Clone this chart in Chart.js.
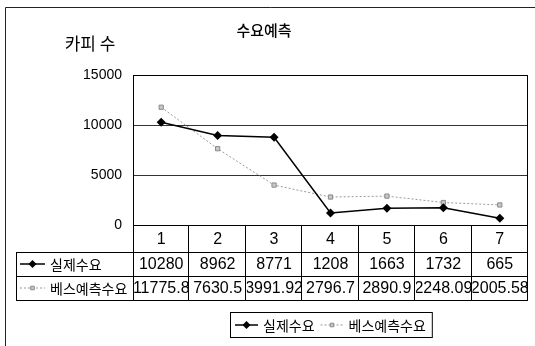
<!DOCTYPE html>
<html>
<head>
<meta charset="utf-8">
<script src="https://cdn.jsdelivr.net/npm/chart.js@4.4.0/dist/chart.umd.min.js"></script>
<style>
  html, body { margin: 0; padding: 0; background: #fff; }
  #wrap { width: 535px; height: 346px; position: relative; }
</style>
</head>
<body>
<div id="wrap"><canvas id="line"></canvas></div>
<script>
const periods = ['1', '2', '3', '4', '5', '6', '7'];
const actualDemand = [10280, 8962, 8771, 1208, 1663, 1732, 665];
const forecastDemand = [11775.8, 7630.5, 3991.92, 2796.7, 2890.9, 2248.09, 2005.58];
const seriesNames = ['실제수요', '베스예측수요'];
const yTicks = [0, 5000, 10000, 15000];
const chartTitle = '수요예측';
const yTitle = '카피 수';

const KO = "'Noto Sans CJK KR', sans-serif";
const NUM = "'Liberation Sans', Arial, sans-serif";

// line + marker, the way excel shows the series key
function drawKey(chart, idx, x1, x2, y) {
  var ctx = chart.ctx;
  var ds = chart.data.datasets[idx];
  ctx.save();
  ctx.strokeStyle = ds.borderColor;
  ctx.lineWidth = ds.borderWidth;
  ctx.setLineDash(ds.borderDash || []);
  ctx.beginPath();
  ctx.moveTo(x1, y);
  ctx.lineTo(x2, y);
  ctx.stroke();
  ctx.setLineDash([]);
  ctx.fillStyle = ds.backgroundColor;
  ctx.strokeStyle = ds.pointBorderColor || ds.borderColor;
  Chart.helpers.drawPoint(ctx, {
    pointStyle: ds.pointStyle,
    radius: ds.pointRadius - 0.5,
    rotation: 0,
    borderWidth: ds.pointBorderWidth
  }, (x1 + x2) / 2, y);
  ctx.restore();
}

function cellText(ctx, text, x1, x2, y1, y2) {
  ctx.save();
  ctx.beginPath();
  ctx.rect(x1 + 1, y1, x2 - x1 - 1, y2 - y1);
  ctx.clip();
  ctx.fillText(text, (x1 + x2) / 2, (y1 + y2) / 2 + 1);
  ctx.restore();
}

const tablePlugin = {
  id: 'dataTable',
  beforeDatasetsDraw(chart) {
    var ctx = chart.ctx, a = chart.chartArea;
    ctx.save();
    ctx.strokeStyle = '#000';
    ctx.lineWidth = 1;
    ctx.strokeRect(a.left + 0.5, a.top + 0.5, a.right - a.left - 1, a.bottom - a.top);
    ctx.restore();
  },
  afterDraw(chart) {
    var ctx = chart.ctx, a = chart.chartArea;
    var n = periods.length;
    var w = (a.right - a.left) / n;
    var labelLeft = 16;
    var rows = [a.bottom, a.bottom + 27, a.bottom + 51, a.bottom + 75];

    ctx.save();
    // outer chart frame
    ctx.strokeStyle = '#222';
    ctx.lineWidth = 1;
    ctx.beginPath();
    ctx.moveTo(5.5, 346);
    ctx.lineTo(5.5, 7.5);
    ctx.lineTo(535, 7.5);
    ctx.stroke();

    // y axis title
    ctx.fillStyle = '#000';
    ctx.font = '17px ' + KO;
    ctx.textAlign = 'center';
    ctx.textBaseline = 'middle';
    ctx.fillText(yTitle, 90, 44);

    // table grid
    ctx.strokeStyle = '#000';
    ctx.beginPath();
    for (var r = 1; r < rows.length; r++) {
      ctx.moveTo(labelLeft, rows[r] + 0.5);
      ctx.lineTo(a.right, rows[r] + 0.5);
    }
    ctx.moveTo(labelLeft + 0.5, rows[1]);
    ctx.lineTo(labelLeft + 0.5, rows[3]);
    for (var i = 0; i <= n; i++) {
      var x = Math.round(a.left + i * w) - 0.5;
      if (i === 0) x = a.left + 0.5;
      ctx.moveTo(x, rows[0]);
      ctx.lineTo(x, rows[3]);
    }
    ctx.stroke();

    // cells
    ctx.fillStyle = '#000';
    ctx.font = '16px ' + NUM;
    ctx.textAlign = 'center';
    ctx.textBaseline = 'middle';
    var series = [actualDemand, forecastDemand];
    for (var i = 0; i < n; i++) {
      var x1 = a.left + i * w, x2 = a.left + (i + 1) * w;
      cellText(ctx, periods[i], x1, x2, rows[0], rows[1]);
      for (var s = 0; s < series.length; s++) {
        cellText(ctx, String(series[s][i]), x1, x2, rows[s + 1], rows[s + 2]);
      }
    }

    // row headers
    ctx.font = '14px ' + KO;
    ctx.textAlign = 'left';
    for (var s = 0; s < seriesNames.length; s++) {
      var yc = (rows[s + 1] + rows[s + 2]) / 2;
      drawKey(chart, s, 20, 45, yc);
      ctx.fillStyle = '#000';
      ctx.fillText(seriesNames[s], 50, yc + 1);
    }

    // legend box
    var lx = 230, ly = 312, lh = 25;
    var xPos = lx + 5;
    var items = [];
    for (var s = 0; s < seriesNames.length; s++) {
      items.push({ key: xPos, text: xPos + 28 });
      xPos += 28 + ctx.measureText(seriesNames[s]).width + 6;
    }
    ctx.strokeStyle = '#000';
    ctx.strokeRect(lx + 0.5, ly + 0.5, xPos - lx, lh);
    for (var s = 0; s < seriesNames.length; s++) {
      drawKey(chart, s, items[s].key, items[s].key + 23, ly + lh / 2 + 0.5);
      ctx.fillStyle = '#000';
      ctx.fillText(seriesNames[s], items[s].text, ly + lh / 2 + 1.5);
    }
    ctx.restore();
  }
};

const lineData = {
  labels: periods,
  datasets: [{
    label: seriesNames[0],
    data: actualDemand,
    borderColor: '#000',
    backgroundColor: '#000',
    borderWidth: 1.5,
    pointStyle: 'rectRot',
    pointRadius: 4.5,
    pointBorderWidth: 0,
    tension: 0
  }, {
    label: seriesNames[1],
    data: forecastDemand,
    borderColor: '#999',
    backgroundColor: '#c8c8c8',
    borderWidth: 1,
    borderDash: [2, 2],
    pointStyle: 'rect',
    pointRadius: 3,
    pointBorderColor: '#8a8a8a',
    pointBorderWidth: 1,
    tension: 0
  }]
};

const lineConfig = {
  type: 'line',
  data: lineData,
  options: {
    responsive: true,
    maintainAspectRatio: false,
    animation: false,
    layout: {
      padding: { left: 0, right: 7, top: 0, bottom: 121 }
    },
    plugins: {
      legend: { display: false },
      tooltip: { enabled: false },
      title: {
        display: true,
        text: chartTitle,
        color: '#000',
        font: { family: KO, size: 15, weight: '500', lineHeight: 1.2 },
        padding: { top: 21, bottom: 36 }
      }
    },
    scales: {
      x: {
        type: 'category',
        offset: true,
        display: false
      },
      y: {
        min: 0,
        max: 15000,
        afterBuildTicks: function (scale) {
          scale.ticks = yTicks.map(v => ({ value: v }));
        },
        afterFit: function (scale) {
          scale.width = 133;
        },
        border: { display: true, color: '#000' },
        grid: { color: '#333', drawTicks: false },
        ticks: {
          color: '#000',
          padding: 11,
          font: { family: NUM, size: 14 },
          callback: function (value) {
            return String(value);
          }
        }
      }
    }
  },
  plugins: [tablePlugin]
};

var chart = new Chart(document.getElementById('line'), lineConfig);
</script>
</body>
</html>
